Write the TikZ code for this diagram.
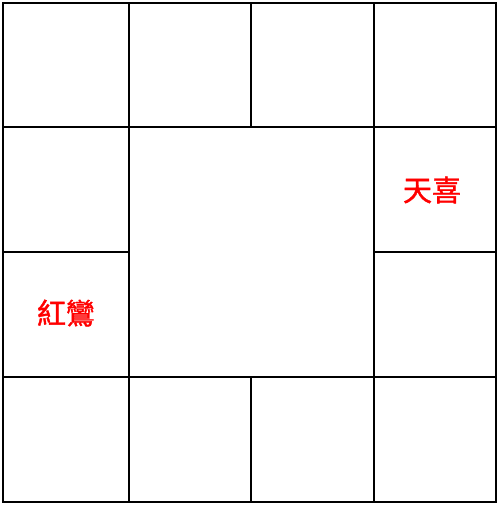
\documentclass[tikz,border=0pt]{standalone}
\usepackage{fontspec}
\newfontfamily\cjk[FakeBold=1.3]{Noto Sans CJK TC}
\begin{document}
\begin{tikzpicture}[x=1pt,y=-1pt]
\tikzset{cell lines/.style={line width=1.9pt,color=black},
  star/.style={font=\cjk\fontsize{29}{29}\selectfont,text=red,inner sep=0pt}}
\useasboundingbox (0,0) rectangle (499,506);
% Draw the outer frame
\draw[cell lines] (3,3) rectangle (496,502);
% full lines
\foreach \x in {129,374} {
\draw[cell lines] (\x,3) -- (\x,502);
}
\foreach \y in {127,377} {
\draw[cell lines] (3,\y) -- (496,\y);
}
% the short lines -- top and bottom rows
\foreach \y/\z in {3/127,377/502} {
\draw[cell lines] (251,\y) -- (251,\z);
}
% the short lines -- left and right columns
\foreach \x/\z in {3/129,374/496} {
\draw[cell lines] (\x,252) -- (\z,252);
}
% the stars
\node[star] (tianxi) at (432,190) {天喜};
\node[star] (hongluan) at (66,313) {紅鸞};
\end{tikzpicture}
\end{document}
